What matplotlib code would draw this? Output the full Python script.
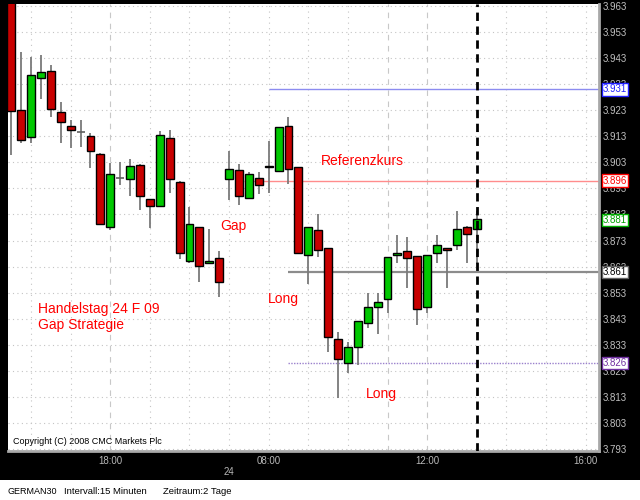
import matplotlib
matplotlib.use("Agg")
import matplotlib.pyplot as plt
from matplotlib.patches import Rectangle
from matplotlib.transforms import blended_transform_factory
import numpy as np

plt.rcParams['font.family'] = ['Liberation Sans', 'DejaVu Sans']

# 15-minute candles: day 23 (15:30 .. 20:45) then day 24 (07:00 .. 13:15)
opens = [3.9660, 3.9231, 3.9127, 3.9354, 3.9381, 3.9223, 3.9170, 3.9147, 3.9131, 3.9062,
         3.8782, 3.8970, 3.8966, 3.9020, 3.8889, 3.8863, 3.9124, 3.8955, 3.8652, 3.8782,
         3.8644, 3.8663,
         3.8966, 3.9001, 3.8893, 3.8970, 3.9018, 3.8997, 3.9170, 3.9012, 3.8675, 3.8771,
         3.8701, 3.8352, 3.8260, 3.8322, 3.8414, 3.8475, 3.8506, 3.8675, 3.8690, 3.8671,
         3.8475, 3.8682, 3.8701, 3.8713, 3.8782, 3.8774]
highs = [3.9680, 3.9453, 3.9434, 3.9442, 3.9404, 3.9262, 3.9193, 3.9193, 3.9143, 3.9065,
         3.9028, 3.9031, 3.9043, 3.9022, 3.8890, 3.9150, 3.9154, 3.8958, 3.8859, 3.8782,
         3.8774, 3.8690,
         3.9074, 3.9024, 3.8993, 3.8993, 3.9112, 3.9166, 3.9204, 3.9012, 3.8782, 3.8832,
         3.8701, 3.8379, 3.8341, 3.8421, 3.8529, 3.8529, 3.8667, 3.8751, 3.8744, 3.8671,
         3.8675, 3.8751, 3.8703, 3.8843, 3.8785, 3.8843]
lows = [3.9058, 3.9104, 3.9104, 3.9273, 3.9204, 3.9104, 3.9085, 3.9089, 3.9008, 3.8790,
        3.8771, 3.8943, 3.8901, 3.8847, 3.8778, 3.8860, 3.8913, 3.8659, 3.8644, 3.8571,
        3.8640, 3.8513,
        3.8886, 3.8866, 3.8890, 3.8909, 3.8913, 3.8997, 3.8947, 3.8682, 3.8563, 3.8667,
        3.8302, 3.8126, 3.8222, 3.8253, 3.8394, 3.8371, 3.8452, 3.8644, 3.8548, 3.8406,
        3.8452, 3.8644, 3.8548, 3.8694, 3.8644, 3.8640]
closes = [3.9227, 3.9116, 3.9365, 3.9377, 3.9235, 3.9185, 3.9154, 3.9147, 3.9074, 3.8794,
          3.8985, 3.8970, 3.9016, 3.8901, 3.8863, 3.9135, 3.8966, 3.8682, 3.8794, 3.8632,
          3.8652, 3.8571,
          3.9005, 3.8901, 3.8985, 3.8943, 3.9014, 3.9166, 3.9005, 3.8682, 3.8782, 3.8694,
          3.8360, 3.8276, 3.8322, 3.8421, 3.8475, 3.8494, 3.8667, 3.8682, 3.8663, 3.8467,
          3.8675, 3.8713, 3.8694, 3.8774, 3.8755, 3.8813]

price_ticks = [3.963, 3.953, 3.943, 3.933, 3.923, 3.913, 3.903, 3.893, 3.883, 3.873,
               3.863, 3.853, 3.843, 3.833, 3.823, 3.813, 3.803, 3.793]
time_tick_idx = [10, 26, 42, 58]
time_tick_labels = ["18:00", "08:00", "12:00", "16:00"]
hour_grid_idx = [2, 6, 10, 14, 18, 22, 26, 30, 34, 38, 42, 50, 54, 58]
dashed_grid_idx = [10, 38, 42]
day_label = "24"
day_label_idx = 22
current_idx = 47

ref_levels = [3.931, 3.896, 3.861, 3.826]
ref_start_idx = [26, 23.5, 28, 28]
ref_line_colors = ['#8c8cf0', '#ff8c8c', '#8c8c8c', '#9a80cc']
ref_text_colors = ['#2020ff', '#ff0000', '#000000', '#7030a0']
current_price = 3.881

fig = plt.figure(figsize=(6.4, 5), dpi=100, facecolor='black')
fig.patches.append(Rectangle((0, 0), 1, 20 / 500, transform=fig.transFigure,
                             facecolor='white', edgecolor='none', zorder=0))
ax = fig.add_axes([8 / 640, 1 - 451 / 500, 591 / 640, 447 / 500])
ax.set_facecolor('white')

n = len(opens)
x = np.arange(n)
o = np.array(opens); h = np.array(highs); l = np.array(lows); c = np.array(closes)

# grid
for p in price_ticks:
    ax.axhline(p, color='#c4c4c4', lw=0.8, ls=(0, (1, 3)), zorder=0.5)
for gi in hour_grid_idx:
    if gi in dashed_grid_idx:
        ax.axvline(gi, color='#c8c8c8', lw=0.8, ls=(0, (5, 5)), zorder=0.5)
    else:
        ax.axvline(gi, color='#c4c4c4', lw=0.8, ls=(0, (1, 4)), zorder=0.5)

# reference lines
for lev, st, lc in zip(ref_levels, ref_start_idx, ref_line_colors):
    ls = (0, (1, 1)) if lc == '#9a80cc' else '-'
    lw = 1.6 if lc == '#8c8c8c' else 1.0
    ax.hlines(lev, st, 60, color=lc, lw=lw, ls=ls, zorder=1)

# wicks
ax.vlines(x, l, h, color='#7a7a7a', lw=1.3, zorder=2)

# bodies
up = c > o
down = c < o
doji = c == o
w = 0.8
bottoms = np.minimum(o, c)
heights = np.maximum(np.abs(c - o), 0.0004)
ax.bar(x[up], heights[up], bottom=bottoms[up], width=w, color='#00c800',
       edgecolor='black', linewidth=1, zorder=3)
ax.bar(x[down], heights[down], bottom=bottoms[down], width=w, color='#c80000',
       edgecolor='black', linewidth=1, zorder=3)
ax.hlines(o[doji], x[doji] - w / 2, x[doji] + w / 2, color='#606060', lw=1.2, zorder=3)

# current time line
ax.axvline(current_idx, color='black', lw=2, ls=(0, (3, 2)), zorder=4)

ax.set_xlim(-0.33, 59.36)
ax.set_ylim(3.79225, 3.96377)

ax.yaxis.tick_right()
ax.set_yticks(price_ticks)
ax.set_yticklabels([f"{p:.3f}" for p in price_ticks])
ax.tick_params(axis='y', length=0, pad=3, labelcolor='#c0c0c0', labelsize=7)
ax.set_xticks(time_tick_idx)
ax.set_xticklabels(time_tick_labels)
ax.tick_params(axis='x', length=0, pad=3.5, labelcolor='#b8b8b8', labelsize=7)

for s in ['left', 'top']:
    ax.spines[s].set_visible(False)
for s in ['right', 'bottom']:
    ax.spines[s].set_color('#a8a8a8')
    ax.spines[s].set_linewidth(2)

# right-side price boxes
bt = blended_transform_factory(ax.transAxes, ax.transData)
for lev, tc, lc in zip(ref_levels, ref_text_colors, ref_line_colors):
    ec = tc if tc != '#000000' else '#606060'
    ax.text(1.0065, lev, f"{lev:.3f}", transform=bt, color=tc, fontsize=7,
            ha='left', va='center', clip_on=False, zorder=6,
            bbox=dict(boxstyle='square,pad=0.12', fc='white', ec=ec, lw=1))
ax.text(1.0065, current_price, f"{current_price:.3f}", transform=bt, color='#00a000',
        fontsize=7, ha='left', va='center', clip_on=False, zorder=6,
        bbox=dict(boxstyle='square,pad=0.12', fc='white', ec='#00b000', lw=1))

# day label
dt = blended_transform_factory(ax.transData, fig.transFigure)
ax.text(day_label_idx, 1 - 472 / 500, day_label, transform=dt, color='#b8b8b8',
        fontsize=7, ha='center', va='center', clip_on=False)

# annotations
red = '#ff0000'
def ftxt(px, py, s, **kw):
    fig.text(px / 640, 1 - py / 500, s, **kw)

ftxt(220, 226, "Gap", color=red, fontsize=10, va='center', ha='left')
ftxt(321, 161, "Referenzkurs", color=red, fontsize=10, va='center', ha='left')
ftxt(268, 299, "Long", color=red, fontsize=10, va='center', ha='left')
ftxt(366, 394, "Long", color=red, fontsize=10, va='center', ha='left')
ftxt(38, 309, "Handelstag 24 F 09", color=red, fontsize=10, va='center', ha='left')
ftxt(38, 325, "Gap Strategie", color=red, fontsize=10, va='center', ha='left')
ftxt(13, 441, "Copyright (C) 2008 CMC Markets Plc", color='black', fontsize=6.5,
     va='center', ha='left')
ftxt(7, 492, "GERMAN30", color='black', fontsize=6.5, va='center', ha='left')
ftxt(64, 492, "Intervall:15 Minuten", color='black', fontsize=6.8, va='center', ha='left')
ftxt(163, 492, "Zeitraum:2 Tage", color='black', fontsize=6.8, va='center', ha='left')

fig.savefig("out.png", dpi=100, facecolor='black')
